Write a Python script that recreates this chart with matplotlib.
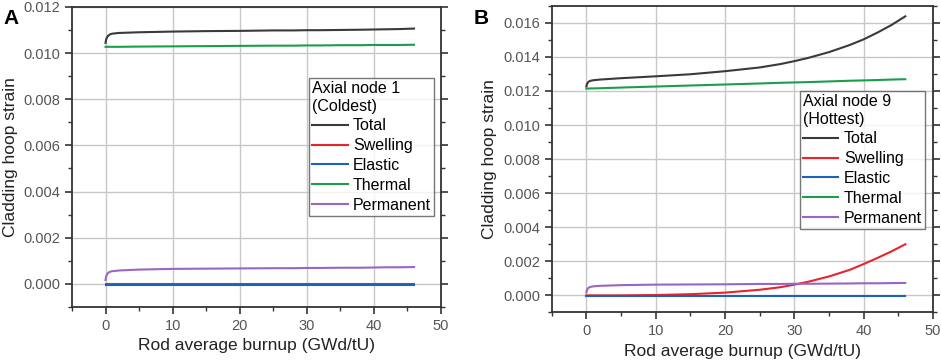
import matplotlib
matplotlib.use("Agg")
import matplotlib.pyplot as plt
from matplotlib.ticker import MultipleLocator, FormatStrFormatter

plt.rcParams['font.family'] = ['Liberation Sans', 'DejaVu Sans']

# ---- data ----
burnup = [0, 0.1, 0.3, 0.6, 1, 2, 5, 10, 15, 20, 25, 28, 30, 32, 35, 38, 40, 42, 44, 46]

# Panel A: Axial node 1 (Coldest)
a_total     = [0.01044, 0.01060, 0.01072, 0.01080, 0.01084, 0.01087, 0.01090, 0.01093, 0.01095, 0.01096,
               0.01098, 0.01098, 0.01099, 0.01099, 0.01100, 0.01101, 0.01102, 0.01103, 0.01104, 0.01106]
a_swelling  = [0.0] * 20
a_elastic   = [-0.00003] * 20
a_thermal   = [0.01027, 0.01027, 0.01027, 0.01027, 0.01027, 0.01027, 0.01028, 0.01029, 0.01030, 0.01031,
               0.01032, 0.01032, 0.01033, 0.01033, 0.01034, 0.01034, 0.01035, 0.01035, 0.01035, 0.01036]
a_permanent = [0.00017, 0.00033, 0.00045, 0.00052, 0.00055, 0.00058, 0.00062, 0.00065, 0.00066, 0.00067,
               0.00068, 0.00068, 0.00069, 0.00069, 0.00070, 0.00070, 0.00071, 0.00072, 0.00072, 0.00073]

# Panel B: Axial node 9 (Hottest)
b_total     = [0.01226, 0.01242, 0.01254, 0.01260, 0.01263, 0.01267, 0.01275, 0.01286, 0.01298, 0.01316,
               0.01338, 0.01358, 0.01375, 0.01394, 0.01428, 0.01470, 0.01503, 0.01543, 0.01587, 0.01638]
b_swelling  = [0.0, 0.0, 0.0, 0.0, 0.0, 0.0, 0.0, 0.00002, 0.00007, 0.00016,
               0.00033, 0.00048, 0.00063, 0.00080, 0.00111, 0.00150, 0.00184, 0.00220, 0.00258, 0.00300]
b_elastic   = [-0.00005] * 20
b_thermal   = [0.01214, 0.01214, 0.01214, 0.01215, 0.01215, 0.01216, 0.01220, 0.01226, 0.01232, 0.01238,
               0.01244, 0.01248, 0.01250, 0.01252, 0.01256, 0.01260, 0.01262, 0.01264, 0.01267, 0.01269]
b_permanent = [0.00017, 0.00033, 0.00045, 0.00050, 0.00053, 0.00056, 0.00060, 0.00063, 0.00064, 0.00065,
               0.00067, 0.00067, 0.00068, 0.00068, 0.00069, 0.00070, 0.00071, 0.00071, 0.00072, 0.00073]

series_names = ["Total", "Swelling", "Elastic", "Thermal", "Permanent"]
colors = ["#3a3a3a", "#e8242c", "#1f5fbd", "#1a9e4a", "#9a66c4"]

x_label = "Rod average burnup (GWd/tU)"
y_label = "Cladding hoop strain"

fig = plt.figure(figsize=(9.41, 3.62), dpi=100)
axA = fig.add_axes([0.0765, 0.152, 0.392, 0.829])
axB = fig.add_axes([0.5863, 0.137, 0.4052, 0.847])


def draw(ax, data, title, ylim, ymajor, legend_anchor):
    for vals, name, c in zip(data, series_names, colors):
        ax.plot(burnup, vals, color=c, lw=1.5, label=name)
    ax.set_xlim(-5, 50)
    ax.set_ylim(*ylim)
    ax.xaxis.set_major_locator(MultipleLocator(10))
    ax.xaxis.set_minor_locator(MultipleLocator(5))
    ax.yaxis.set_major_locator(MultipleLocator(ymajor))
    ax.yaxis.set_minor_locator(MultipleLocator(ymajor / 2))
    ax.yaxis.set_major_formatter(FormatStrFormatter('%.3f'))
    ax.grid(True, which='major', color='#c8c8c8', lw=1.0)
    ax.set_axisbelow(True)
    for s in ax.spines.values():
        s.set_linewidth(1.3)
        s.set_color('#333333')
    ax.tick_params(which='both', direction='out', right=True, top=False,
                   labelsize=10.5, colors='#333333', labelcolor='#555555')
    ax.tick_params(which='major', length=5, width=1.2)
    ax.tick_params(which='minor', length=3, width=1.0)
    ax.set_xlabel(x_label, fontsize=12.5, color='#222222')
    ax.set_ylabel(y_label, fontsize=12.5, color='#222222')
    leg = ax.legend(title=title, loc='upper left', bbox_to_anchor=legend_anchor,
                    fontsize=11.5, title_fontsize=11.5, frameon=True, fancybox=False,
                    edgecolor='#555555', borderpad=0.2, labelspacing=0.3,
                    handlelength=2.2, handletextpad=0.35, borderaxespad=0.0)
    leg._legend_box.align = "left"
    leg.get_frame().set_linewidth(1.0)


draw(axA, [a_total, a_swelling, a_elastic, a_thermal, a_permanent],
     "Axial node 1\n(Coldest)", (-0.001, 0.012), 0.002, (0.643, 0.763))
draw(axB, [b_total, b_swelling, b_elastic, b_thermal, b_permanent],
     "Axial node 9\n(Hottest)", (-0.001, 0.017), 0.002, (0.651, 0.722))

fig.text(0.004, 0.975, "A", fontsize=15, fontweight='bold', va='top')
fig.text(0.503, 0.975, "B", fontsize=15, fontweight='bold', va='top')

fig.savefig("out.png", dpi=100)
